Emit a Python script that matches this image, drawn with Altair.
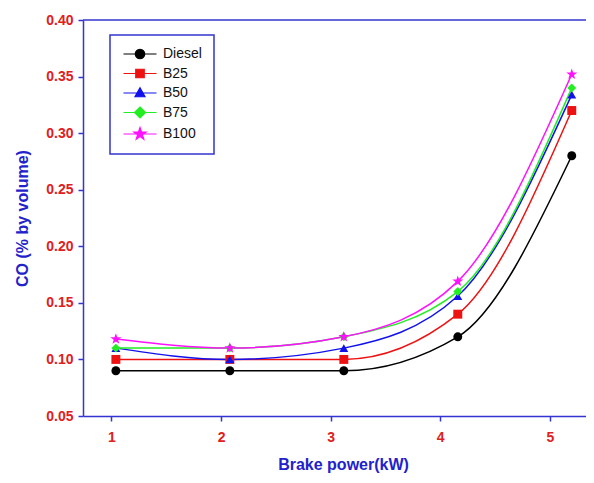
import math
import altair as alt
import pandas as pd

series = ["Diesel", "B25", "B50", "B75", "B100"]
brake_power = [1.04, 2.08, 3.12, 4.16, 5.2]
diesel = [0.090, 0.090, 0.090, 0.120, 0.280]
b25 = [0.100, 0.100, 0.100, 0.140, 0.320]
b50 = [0.110, 0.100, 0.110, 0.156, 0.334]
b75 = [0.110, 0.110, 0.120, 0.160, 0.340]
b100 = [0.118, 0.110, 0.120, 0.169, 0.352]
y_ticks = [0.05, 0.10, 0.15, 0.20, 0.25, 0.30, 0.35, 0.40]
x_ticks = [1, 2, 3, 4, 5]

colors = ["#000000", "#ee1111", "#1111ee", "#22ee22", "#ff11ff"]


def star(outer, inner):
    pts = []
    for k in range(10):
        r = outer if k % 2 == 0 else inner
        a = math.radians(-90 + 36 * k)
        pts.append(f"{r * math.cos(a):.3f},{r * math.sin(a):.3f}")
    return "M" + "L".join(pts) + "Z"


shapes = ["circle", "square", "triangle-up", "diamond", star(1.3, 0.52)]

line_part = "M-3.3,0H3.3"
legend_paths = [
    line_part + "M0.95,0A0.95,0.95 0 1,1 -0.95,0A0.95,0.95 0 1,1 0.95,0Z",
    line_part + "M-0.85,-0.85H0.85V0.85H-0.85Z",
    line_part + "M0,-1.05L1.0,0.75H-1.0Z",
    line_part + "M0,-1.1L1.1,0L0,1.1L-1.1,0Z",
    line_part + star(1.3, 0.52),
]

values = [diesel, b25, b50, b75, b100]
rows = []
for s, vals in zip(series, values):
    for x, v in zip(brake_power, vals):
        rows.append({"series": s, "x": x, "y": v})
df = pd.DataFrame(rows)

FONT = "Liberation Sans"
AXIS_BLUE = "#3434d0"
LABEL_RED = "#e02020"
TITLE_BLUE = "#2222cc"

x_enc = alt.X(
    "x:Q",
    scale=alt.Scale(domain=[0.74, 5.33], nice=False, zero=False),
    axis=alt.Axis(values=x_ticks, format="d", title="Brake power(kW)", grid=False,
                  labelPadding=9, titlePadding=12, titleX=260),
)
y_enc = alt.Y(
    "y:Q",
    scale=alt.Scale(domain=[0.05, 0.40], nice=False, zero=False),
    axis=alt.Axis(values=y_ticks, format=".2f", title="CO (% by volume)", grid=False,
                  labelPadding=5, titlePadding=15),
)

color_scale = alt.Scale(domain=series, range=colors)

lines = alt.Chart(df).mark_line(interpolate="monotone", strokeWidth=1.5).encode(
    x=x_enc, y=y_enc,
    color=alt.Color("series:N", scale=color_scale, legend=None),
    order=alt.Order("x:Q"),
)

points = alt.Chart(df).mark_point(filled=True, size=80, opacity=1).encode(
    x=x_enc, y=y_enc,
    color=alt.Color("series:N", scale=color_scale, legend=None),
    shape=alt.Shape("series:N", scale=alt.Scale(domain=series, range=shapes), legend=None),
)

legend_layer = alt.Chart(df).transform_filter("false").mark_point(filled=True, opacity=1).encode(
    fill=alt.Fill("series:N", scale=alt.Scale(domain=series, range=colors), title=None),
    stroke=alt.Stroke("series:N", scale=alt.Scale(domain=series, range=colors), title=None),
    shape=alt.Shape("series:N", scale=alt.Scale(domain=series, range=legend_paths), title=None),
)

top_border = alt.Chart(pd.DataFrame({"y": [0.40]})).mark_rule(
    color=AXIS_BLUE, strokeWidth=1.5
).encode(y=alt.Y("y:Q", scale=alt.Scale(domain=[0.05, 0.40], nice=False, zero=False)))

chart = alt.layer(top_border, lines, points, legend_layer).resolve_scale(
    shape="independent", fill="independent", stroke="independent"
).properties(
    width=503, height=396,
    autosize=alt.AutoSizeParams(type="none"),
    padding={"left": 75, "top": 12, "right": 0, "bottom": 60},
).configure_view(stroke=None).configure_axis(
    domainColor=AXIS_BLUE, domainWidth=1.5, tickColor=AXIS_BLUE, tickWidth=1.5, tickSize=5,
    labelColor=LABEL_RED, labelFont=FONT, labelFontSize=14, labelFontWeight="bold",
    titleColor=TITLE_BLUE, titleFont=FONT, titleFontSize=16, titleFontWeight="bold",
).configure_legend(
    orient="none", legendX=27, legendY=15, padding=12,
    strokeColor=AXIS_BLUE, strokeWidth=1.5, fillColor="white",
    symbolSize=100, symbolStrokeWidth=1.2, rowPadding=4.5,
    labelFont=FONT, labelFontSize=14, labelColor="#111111",
    labelOffset=16, symbolOffset=11,
)

chart.save("out.html", embed_options={"renderer": "svg", "actions": False})
